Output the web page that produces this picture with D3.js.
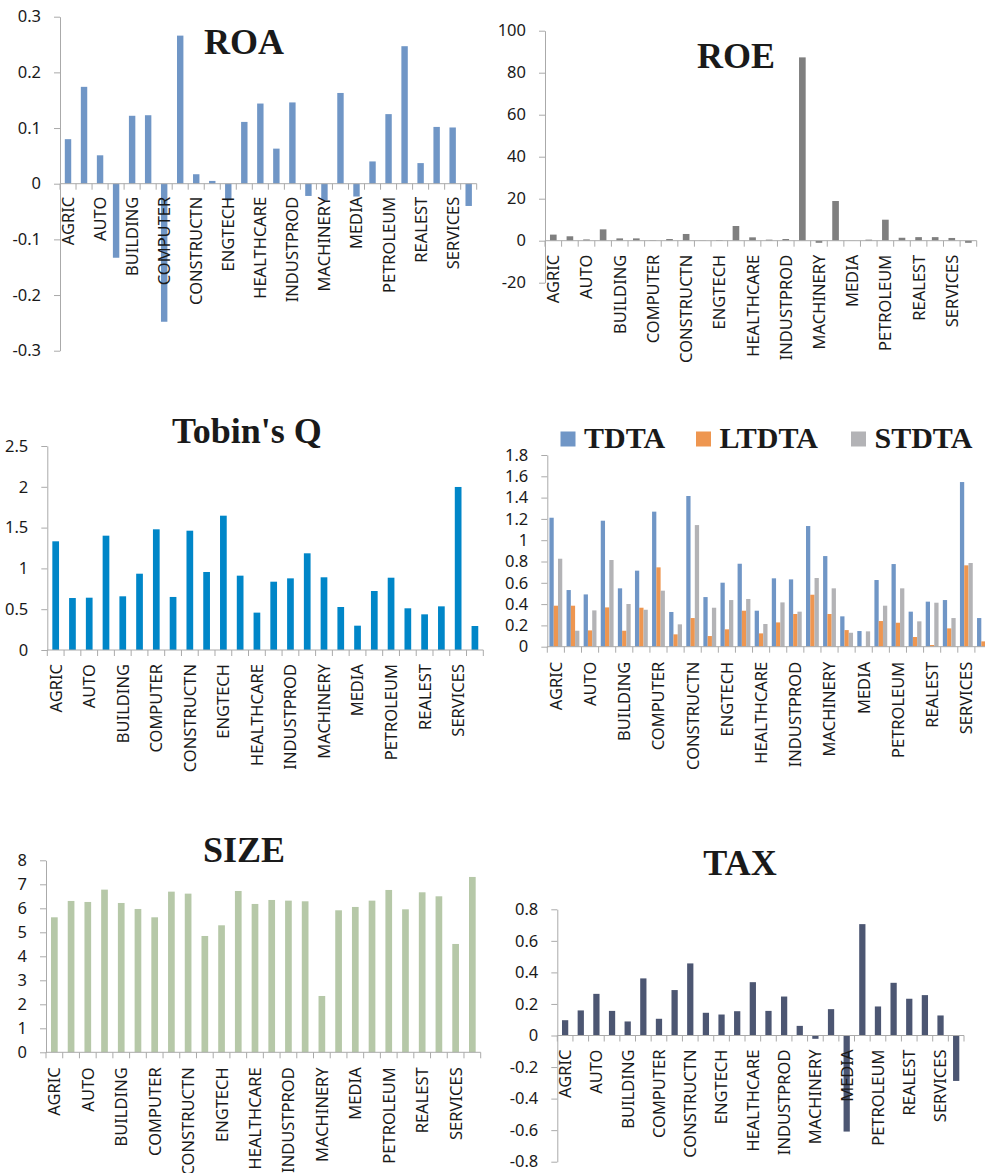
<!DOCTYPE html>
<html>
<head>
<meta charset="utf-8">
<script src="https://cdn.jsdelivr.net/npm/d3@7"></script>
<style>
  body { margin: 0; background: #fff; }
  text { font-family: "Noto Sans", sans-serif; }
</style>
</head>
<body>
<div id="chart"></div>
<script>
// Data
// =================================
// 26 industries, Excel only printed every other name
const industries = ["AGRIC", "AUTO", "BUILDING", "COMPUTER", "CONSTRUCTN", "ENGTECH",
  "HEALTHCARE", "INDUSTPROD", "MACHINERY", "MEDIA", "PETROLEUM", "REALEST", "SERVICES"];
const nCat = 26;

const roa = [0.080, 0.174, 0.051, -0.133, 0.122, 0.123, -0.248, 0.266, 0.017, 0.005,
  -0.030, 0.111, 0.144, 0.063, 0.146, -0.022, -0.030, 0.163, -0.023, 0.040,
  0.125, 0.247, 0.037, 0.102, 0.101, -0.040];
const roe = [2.9, 2.1, 0.6, 5.4, 1.1, 1.1, 0.2, 0.8, 3.2, 0.1,
  0.3, 7.0, 1.6, 0.5, 0.8, 87.3, -1.0, 18.9, 0.05, 0.5,
  10.0, 1.4, 1.7, 1.7, 1.3, -1.0];
const tobinQ = [1.332, 0.637, 0.641, 1.401, 0.658, 0.935, 1.479, 0.650, 1.462, 0.956,
  1.646, 0.911, 0.458, 0.837, 0.878, 1.185, 0.891, 0.527, 0.298, 0.723,
  0.886, 0.511, 0.437, 0.535, 1.998, 0.294];
const tdta = [1.211, 0.532, 0.491, 1.183, 0.548, 0.714, 1.268, 0.326, 1.415, 0.466,
  0.601, 0.779, 0.338, 0.642, 0.632, 1.133, 0.851, 0.285, 0.147, 0.626,
  0.776, 0.329, 0.423, 0.438, 1.546, 0.269];
const ltdta = [0.385, 0.385, 0.153, 0.369, 0.150, 0.366, 0.745, 0.116, 0.269, 0.100,
  0.163, 0.338, 0.125, 0.228, 0.307, 0.488, 0.307, 0.156, 0.0, 0.241,
  0.225, 0.091, 0.016, 0.172, 0.764, 0.050];
const stdta = [0.826, 0.150, 0.341, 0.814, 0.401, 0.347, 0.526, 0.210, 1.142, 0.366,
  0.438, 0.448, 0.213, 0.416, 0.329, 0.645, 0.548, 0.131, 0.144, 0.385,
  0.548, 0.238, 0.413, 0.269, 0.786, 0.213];
const size = [5.625, 6.306, 6.264, 6.778, 6.222, 5.972, 5.625, 6.694, 6.611, 4.847,
  5.292, 6.722, 6.181, 6.347, 6.319, 6.292, 2.347, 5.917, 6.056, 6.319,
  6.764, 5.958, 6.667, 6.500, 4.514, 7.306];
const tax = [0.097, 0.159, 0.264, 0.156, 0.089, 0.362, 0.106, 0.288, 0.457, 0.144,
  0.133, 0.154, 0.338, 0.156, 0.247, 0.061, -0.021, 0.167, -0.609, 0.706,
  0.184, 0.334, 0.233, 0.256, 0.127, -0.288];

// tick labels
const roaTicks = [-0.3, -0.2, -0.1, 0, 0.1, 0.2, 0.3];
const roeTicks = [-20, 0, 20, 40, 60, 80, 100];
const tobinTicks = [0, 0.5, 1, 1.5, 2, 2.5];
const levTicks = [0, 0.2, 0.4, 0.6, 0.8, 1, 1.2, 1.4, 1.6, 1.8];
const sizeTicks = [0, 1, 2, 3, 4, 5, 6, 7, 8];
const taxTicks = [-0.8, -0.6, -0.4, -0.2, 0, 0.2, 0.4, 0.6, 0.8];

// Set up chart
// =================================
const svgWidth = 985;
const svgHeight = 1173;

const svg = d3.select("#chart")
  .append("svg")
  .attr("width", svgWidth)
  .attr("height", svgHeight);

const axisColor = "#aaaaaa";
const textColor = "#1a1a1a";
const labelSize = "16.5px";

const panels = [
  { title: "ROA", titleX: 244, titleY: 54,
    series: [{ name: "ROA", values: roa, color: "#7096c6" }],
    ticks: roaTicks, x0: 60, x1: 476.7, yTop: 16.7, yBot: 350.7, labelGap: 13 },
  { title: "ROE", titleX: 736, titleY: 68,
    series: [{ name: "ROE", values: roe, color: "#7f7f7f" }],
    ticks: roeTicks, x0: 545, x1: 976.7, yTop: 30.7, yBot: 282.7, labelGap: 14 },
  { title: "Tobin's Q", titleX: 247, titleY: 443,
    series: [{ name: "Q", values: tobinQ, color: "#0086c8" }],
    ticks: tobinTicks, x0: 47.3, x1: 483.3, yTop: 446, yBot: 650, labelGap: 14 },
  { title: null,
    series: [{ name: "TDTA", values: tdta, color: "#7096c6" },
             { name: "LTDTA", values: ltdta, color: "#ee9650" },
             { name: "STDTA", values: stdta, color: "#b3b3b6" }],
    legend: [560.5, 696, 851], legendY: 431.5,
    ticks: levTicks, x0: 547.3, x1: 992, yTop: 455, yBot: 646.7, labelGap: 15 },
  { title: "SIZE", titleX: 244, titleY: 862,
    series: [{ name: "SIZE", values: size, color: "#b6c8a8" }],
    ticks: sizeTicks, x0: 46, x1: 480.7, yTop: 860.3, yBot: 1052.3, labelGap: 15 },
  { title: "TAX", titleX: 740, titleY: 875,
    series: [{ name: "TAX", values: tax, color: "#4c5672" }],
    ticks: taxTicks, x0: 557.3, x1: 964, yTop: 909.3, yBot: 1161.7, labelGap: 14 }
];

const fmt = d => String(+d.toFixed(1));

panels.forEach(function(p) {
  const g = svg.append("g");
  const grouped = p.series.length > 1;
  const pad = grouped ? 0.25 : 0.6;

  const xScale = d3.scaleBand()
    .domain(d3.range(nCat))
    .range([p.x0, p.x1])
    .paddingInner(pad)
    .paddingOuter(pad / 2);

  const xSub = d3.scaleBand()
    .domain(p.series.map(s => s.name))
    .range([0, xScale.bandwidth()]);

  const yScale = d3.scaleLinear()
    .domain([d3.min(p.ticks), d3.max(p.ticks)])
    .range([p.yBot, p.yTop]);

  const y0 = yScale(0);

  // bars
  p.series.forEach(function(s) {
    g.selectAll(null)
      .data(s.values)
      .enter()
      .append("rect")
      .attr("x", (d, i) => xScale(i) + xSub(s.name))
      .attr("y", d => Math.min(yScale(d), y0))
      .attr("width", xSub.bandwidth())
      .attr("height", d => Math.abs(yScale(d) - y0))
      .attr("fill", s.color);
  });

  // y axis
  const leftAxis = d3.axisLeft(yScale)
    .tickValues(p.ticks)
    .tickFormat(fmt)
    .tickSize(6)
    .tickSizeOuter(0)
    .tickPadding(13);

  const yAxisG = g.append("g")
    .attr("transform", `translate(${p.x0}, 0)`)
    .call(leftAxis);
  yAxisG.selectAll("path, line").attr("stroke", axisColor);
  yAxisG.selectAll("text")
    .attr("fill", textColor)
    .style("font-family", "'Noto Sans', sans-serif")
    .style("font-size", labelSize);

  // x axis at zero with ticks at category boundaries
  const step = xScale.step();
  g.append("line")
    .attr("x1", p.x0).attr("x2", p.x1)
    .attr("y1", y0).attr("y2", y0)
    .attr("stroke", axisColor);
  g.selectAll(null)
    .data(d3.range(nCat + 1))
    .enter()
    .append("line")
    .attr("x1", i => p.x0 + i * step)
    .attr("x2", i => p.x0 + i * step)
    .attr("y1", y0)
    .attr("y2", y0 + 6)
    .attr("stroke", axisColor);

  // category labels, every other one
  g.selectAll(null)
    .data(industries)
    .enter()
    .append("text")
    .attr("transform", (d, i) => {
      const cx = xScale(i * 2) + xScale.bandwidth() / 2;
      return `translate(${cx}, ${y0 + p.labelGap}) rotate(-90)`;
    })
    .attr("dy", "0.36em")
    .attr("text-anchor", "end")
    .attr("fill", textColor)
    .style("font-size", labelSize)
    .text(d => d);

  // title
  if (p.title) {
    g.append("text")
      .attr("x", p.titleX)
      .attr("y", p.titleY)
      .attr("text-anchor", "middle")
      .attr("fill", textColor)
      .style("font-family", "'Liberation Serif', 'Times New Roman', serif")
      .style("font-weight", "bold")
      .style("font-size", "36px")
      .text(p.title);
  }

  // legend
  if (p.legend) {
    p.series.forEach(function(s, k) {
      g.append("rect")
        .attr("x", p.legend[k])
        .attr("y", p.legendY)
        .attr("width", 15)
        .attr("height", 15)
        .attr("fill", s.color);
      g.append("text")
        .attr("x", p.legend[k] + 23.5)
        .attr("y", p.legendY + 16)
        .attr("fill", textColor)
        .style("font-family", "'Liberation Serif', 'Times New Roman', serif")
        .style("font-weight", "bold")
        .style("font-size", "30px")
        .text(s.name);
    });
  }
});
</script>
</body>
</html>
